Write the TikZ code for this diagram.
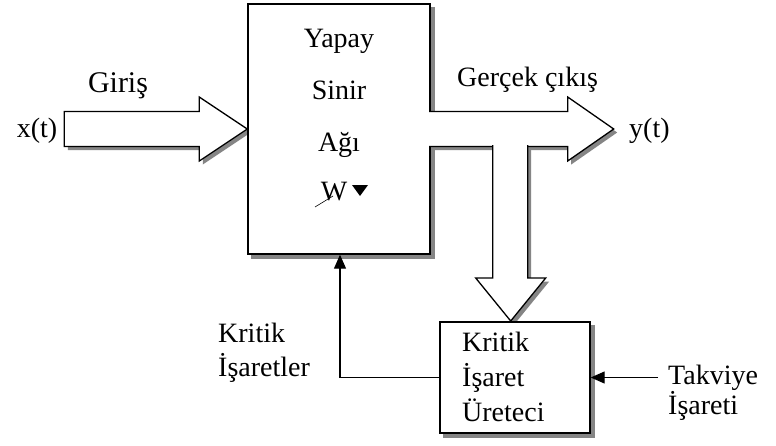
\documentclass[tikz,border=0pt]{standalone}
\usepackage{fontspec}
\setmainfont{Liberation Serif}
\usetikzlibrary{arrows.meta,calc}
\pgfdeclarelayer{background}
\pgfdeclarelayer{paper}
\pgfsetlayers{paper,background,main}

% Block arrow outlines, #1 = offset (used for the shadows)
\newcommand\inArrow[1]{%
  ($(nn.west)+(-183,-17.5)+(#1)$) -- ($(nn.west)+(-48,-17.5)+(#1)$) --
  ($(nn.west)+(-48,-32)+(#1)$) -- ($(nn.west)+(#1)$) --
  ($(nn.west)+(-48,32)+(#1)$) -- ($(nn.west)+(-48,17.5)+(#1)$) --
  ($(nn.west)+(-183,17.5)+(#1)$) -- cycle}
\newcommand\outArrow[1]{%
  ($(nn.east)+(-1.5,-17.5)+(#1)$) -- ($(nn.east)+(137,-17.5)+(#1)$) --
  ($(nn.east)+(137,-32)+(#1)$) -- ($(nn.east)+(183,0)+(#1)$) --
  ($(nn.east)+(137,32)+(#1)$) -- ($(nn.east)+(137,17.5)+(#1)$) --
  ($(nn.east)+(-1.5,17.5)+(#1)$)}
\newcommand\downArrow[1]{%
  ($(nn.east)+(62,16)+(#1)$) -- ($(nn.east)+(62,149)+(#1)$) --
  ($(nn.east)+(45,149)+(#1)$) -- ($(nn.east)+(80,192)+(#1)$) --
  ($(nn.east)+(115,149)+(#1)$) -- ($(nn.east)+(97,149)+(#1)$) --
  ($(nn.east)+(97,16)+(#1)$)}

\begin{document}
\begin{tikzpicture}[x=1pt,y=-1pt,
  lbl/.style={inner sep=0pt, font=\fontsize{28}{34}\selectfont},
  blk/.style={draw=black, line width=1.4pt, fill=white},
  edge/.style={draw=black, line width=1.3pt},
  shd/.style={fill=black!48, draw=none},
  sig/.style={draw=black, line width=1.2pt, -{Triangle[length=14pt,width=12pt]}},
]
\begin{pgfonlayer}{paper}
  \fill[white] (0,0) rectangle (776,445);
\end{pgfonlayer}
\useasboundingbox (0,0) rectangle (776,445);

% neural network block
\node[blk, minimum width=182pt, minimum height=250pt, inner sep=0pt] (nn) at (339,129) {};
% critic signal generator block
\node[blk, minimum width=150pt, minimum height=111pt, inner sep=0pt] (kb) at (515,377.5) {};

% shadows
\begin{pgfonlayer}{background}
  \fill[shd] ($(nn.north west)+(4,4)$) rectangle ($(nn.south east)+(4,4)$);
  \fill[shd] ($(kb.north west)+(4,4)$) rectangle ($(kb.south east)+(4,4)$);
  \fill[shd] \inArrow{3.5,3.5};
  \fill[shd] \outArrow{3.5,3.5} -- cycle;
  \fill[shd] \downArrow{3.5,3.5} -- cycle;
\end{pgfonlayer}

% input arrow
\filldraw[blk, line width=1.3pt] \inArrow{0,0};
% output arrow and its branch to the generator
\fill[white] \outArrow{0,0} -- cycle;
\draw[edge] \outArrow{0,0};
\fill[white] \downArrow{0,0} -- cycle;
\draw[edge] \downArrow{0,0};

% texts in the network block
\node[lbl, anchor=base] (yapay) at (339,47) {Yapay};
\node[lbl, anchor=base] (sinir) at (339,99) {Sinir};
\node[lbl, anchor=base] (agi) at (339,151) {Ağı};
\node[lbl, anchor=base] (w) at (334,200) {W};
\draw[line width=0.6pt] ($(w.base)+(-19,7)$) -- ($(w.base)+(-1,-4)$);
\fill ($(w.base)+(18,-15)$) -- ($(w.base)+(34,-15)$) -- ($(w.base)+(26,-4)$) -- cycle;

% signal labels
\node[lbl, anchor=base, font=\fontsize{30}{34}\selectfont] (giris) at (118,92) {Giriş};
\node[lbl, anchor=base] (xt) at (37,137) {x(t)};
\node[lbl, anchor=base west] (cikis) at (457,86) {Gerçek çıkış};
\node[lbl, anchor=base west] (yt) at (629,137) {y(t)};

% generator text
\node[lbl, anchor=base west] (kb1) at (462,351) {Kritik};
\node[lbl, anchor=base west] (kb2) at (462,386) {İşaret};
\node[lbl, anchor=base west] (kb3) at (462,421) {Üreteci};

% critic signals back to the network
\coordinate (fbx) at (340,300);
\draw[sig] (kb.west) -| (fbx |- nn.south);
\node[lbl, anchor=base west] (kr1) at (218,342) {Kritik};
\node[lbl, anchor=base west] (kr2) at (218,376) {İşaretler};

% reinforcement signal
\coordinate (tk) at (658,377.5);
\draw[sig] (tk) -- (kb.east);
\node[lbl, anchor=base west] (tv1) at (668,384) {Takviye};
\node[lbl, anchor=base west] (tv2) at (668,414) {İşareti};
\end{tikzpicture}
\end{document}
